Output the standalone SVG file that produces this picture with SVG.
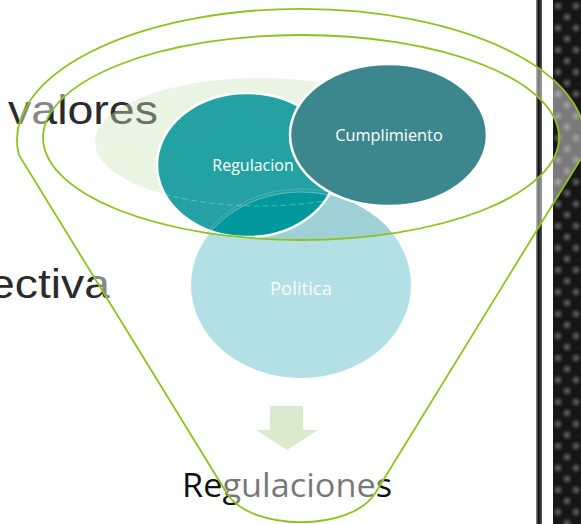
<svg xmlns="http://www.w3.org/2000/svg" width="581" height="524" viewBox="0 0 581 524">
  <defs>
    <style>
      .big { font-family: "Liberation Sans", Arial, sans-serif; font-size: 41px; fill: #2b2b2b; }
      .lbl { font-family: "Open Sans", "Noto Sans", sans-serif; fill: #ffffff; text-anchor: middle; }
      .fun { fill: none; stroke: #8dc21f; stroke-width: 1.8; }
      .wline { fill: none; stroke: #ffffff; stroke-width: 2.5; }
    </style>
    <radialGradient id="dot" cx="0.5" cy="0.5" r="0.5">
      <stop offset="0" stop-color="#5e5e5e"/>
      <stop offset="1" stop-color="#161616"/>
    </radialGradient>
    <pattern id="pat" patternUnits="userSpaceOnUse" x="553" y="0" width="18" height="22">
      <rect width="18" height="22" fill="#161616"/>
      <circle cx="5" cy="6" r="5.5" fill="url(#dot)"/>
      <circle cx="14" cy="17" r="5.5" fill="url(#dot)"/>
      <circle cx="-4" cy="17" r="5.5" fill="url(#dot)"/>
    </pattern>
    <linearGradient id="bar" x1="0" x2="1" y1="0" y2="0">
      <stop offset="0" stop-color="#9a9a9a"/>
      <stop offset="0.4" stop-color="#111"/>
      <stop offset="1" stop-color="#555"/>
    </linearGradient>
    <clipPath id="clipReg">
      <ellipse cx="247" cy="165" rx="90" ry="72"/>
    </clipPath>
    <clipPath id="clipInner">
      <ellipse cx="301" cy="137.5" rx="258" ry="102.5"/>
    </clipPath>
  </defs>

  <rect width="581" height="524" fill="#ffffff"/>

  <!-- right decorative strip -->
  <g id="strip">
    <rect x="536" y="0" width="6" height="524" fill="url(#bar)"/>
    <rect x="553" y="0" width="28" height="524" fill="url(#pat)"/>
  </g>

  <!-- background texts -->
  <g id="side-texts">
    <text class="big" x="8" y="124" textLength="150" lengthAdjust="spacingAndGlyphs">valores</text>
    <text class="big" x="-11" y="298" textLength="121" lengthAdjust="spacingAndGlyphs">ectiva</text>
  </g>
  <g id="regulaciones">
    <text x="182" y="497" font-family="'Open Sans', 'Noto Sans', sans-serif" font-size="33" fill="#111111" textLength="210" lengthAdjust="spacingAndGlyphs">Regulaciones</text>
  </g>

  <!-- pale green ellipse -->
  <g id="valores-halo">
    <ellipse cx="260" cy="142" rx="165" ry="64" fill="#c9e4ba" fill-opacity="0.4"/>
  </g>

  <!-- funnel translucent body -->
  <g id="funnel-body">
    <path fill="#ffffff" fill-opacity="0.43" fill-rule="evenodd"
      d="M 18.9,155 A 284,131 0 1,1 583.1,155 L 375.3,493 C 351.3,532 250.7,532 226.7,493 Z M 43,137.5 A 258,102.5 0 1,0 559,137.5 A 258,102.5 0 1,0 43,137.5 Z"/>
  </g>

  <!-- Politica -->
  <g id="politica">
    <ellipse cx="301" cy="285" rx="110" ry="93" fill="#b3e0e5"/>
    <ellipse cx="301" cy="285" rx="110" ry="93" fill="#9fd0d5" clip-path="url(#clipInner)"/>
    <text class="lbl" x="301" y="295" font-size="18.5" fill-opacity="0.95">Politica</text>
  </g>

  <!-- Regulacion -->
  <g id="regulacion">
    <ellipse cx="247" cy="165" rx="90" ry="72" fill="#24a1a3"/>
    <g clip-path="url(#clipReg)">
      <ellipse cx="301" cy="285" rx="110" ry="93" fill="#00979d"/>
      <ellipse cx="301" cy="285" rx="110" ry="93" fill="none" stroke="#ffffff" stroke-opacity="0.35" stroke-width="1"/>
      <ellipse cx="301" cy="284" rx="112" ry="95" fill="none" stroke="#ffffff" stroke-opacity="0.18" stroke-width="1"/>
      <ellipse cx="260" cy="142" rx="165" ry="64" fill="none" stroke="#ffffff" stroke-opacity="0.3" stroke-width="1" stroke-dasharray="6 3"/>
    </g>
    <ellipse class="wline" cx="247" cy="165" rx="90" ry="72"/>
    <text class="lbl" x="253" y="171" font-size="16">Regulacion</text>
  </g>

  <!-- Cumplimiento -->
  <g id="cumplimiento">
    <ellipse cx="388.5" cy="135" rx="98.5" ry="71" fill="#3c878e" stroke="#ffffff" stroke-width="2.5"/>
    <text class="lbl" x="389" y="141" font-size="16.3">Cumplimiento</text>
  </g>

  <!-- connectors -->
  <g id="connectors">
    <polygon points="270,406 303,406 303,430 318,430 287,450 256,430 270,430" fill="#d9ebcc"/>
  </g>

  <!-- funnel outlines -->
  <g id="funnel">
    <path class="fun" d="M 18.9,155 A 284,131 0 1,1 583.1,155 L 375.3,493 C 351.3,532 250.7,532 226.7,493 Z"/>
    <ellipse class="fun" cx="301" cy="137.5" rx="258" ry="102.5"/>
  </g>
</svg>
